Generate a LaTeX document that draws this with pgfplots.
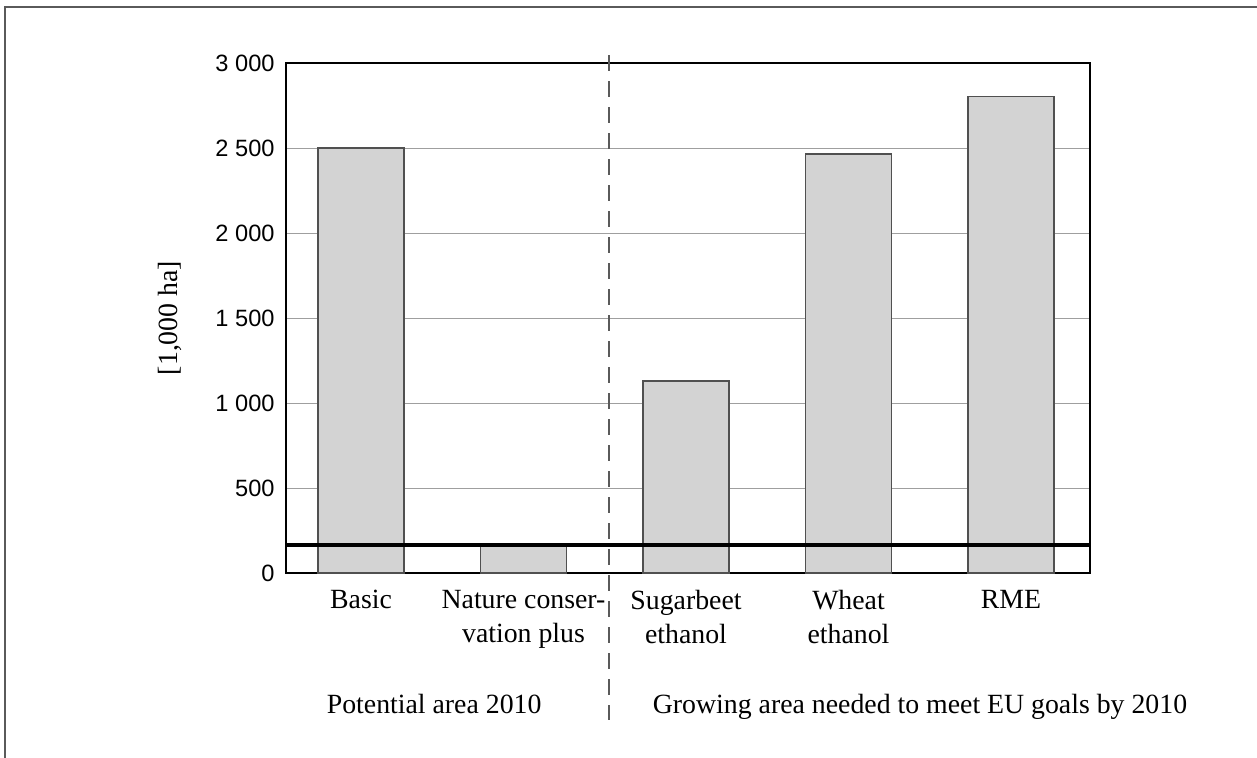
\documentclass[border=0pt]{standalone}
\usepackage{pgfplots}
\pgfplotsset{compat=1.18}
\usepackage{fontspec}
\setmainfont{Liberation Serif}
\newfontfamily\sansnum{Liberation Sans}
\definecolor{barfill}{RGB}{211,211,211}
\definecolor{baredge}{RGB}{80,80,80}
\definecolor{framegray}{RGB}{90,90,90}
\begin{document}
\begin{tikzpicture}
\useasboundingbox (0,0) rectangle (628.5pt,378.5pt);
\draw[framegray, line width=0.9pt] (2.5pt,-2pt) -- (2.5pt,375pt) -- (631pt,375pt);
\begin{axis}[
  at={(143pt,92pt)}, anchor=south west,
  width=402pt, height=255pt, scale only axis,
  xmin=-0.4615, xmax=4.486,
  ymin=0, ymax=3000,
  xtick={0,1,2,3,4},
  xticklabels={Basic, Nature conser-\\vation plus, Sugarbeet\\ethanol, Wheat\\ethanol, RME},
  xticklabel style={align=center, font=\fontsize{13.9}{17}\selectfont, anchor=north, inner sep=0pt, yshift=-8.5pt},
  ytick={0,500,1000,1500,2000,2500,3000},
  yticklabels={0,500,1\kern0.28em000,1\kern0.28em500,2\kern0.28em000,2\kern0.28em500,3\kern0.28em000},
  yticklabel style={font=\sansnum\fontsize{11.8}{13}\selectfont, anchor=east, inner sep=0pt, xshift=-5.5pt},
  major tick length=0pt,
  ymajorgrids, major grid style={gray!75, line width=0.5pt},
  axis line style={black, line width=0.8pt},
  ylabel={[1,000 ha]},
  ylabel style={at={(axis description cs:-0.1443,0.5)}, anchor=center, rotate=0, font=\fontsize{13.9}{15}\selectfont},
  clip=false,
]
\addplot[ybar, bar width=43pt, bar shift=0pt, fill=barfill, draw=baredge, line width=0.6pt]
  coordinates {(0,2500) (1,165) (2,1130) (3,2465) (4,2805)};
\addplot[black, line width=2pt] coordinates {(-0.4615,165) (4.486,165)};
\draw[framegray, line width=1.3pt, dash pattern=on 8pt off 5pt] (axis cs:1.526,3047) -- (axis cs:1.526,-865);
\node[font=\fontsize{13.9}{15}\selectfont, anchor=base] at (axis cs:0.45,-829) {Potential area 2010};
\node[font=\fontsize{13.9}{15}\selectfont, anchor=base] at (axis cs:3.44,-829) {Growing area needed to meet EU goals by 2010};
\end{axis}
\end{tikzpicture}
\end{document}
